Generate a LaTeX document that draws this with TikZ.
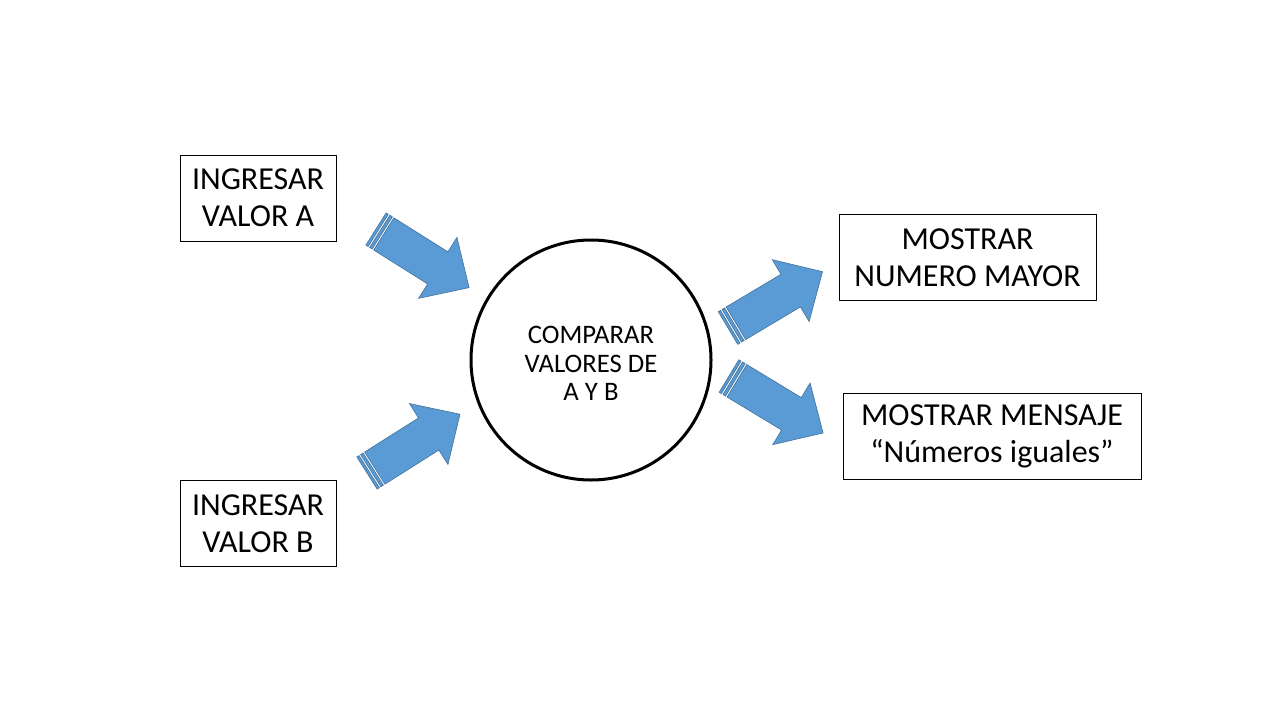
\documentclass[tikz,border=0pt]{standalone}
\usepackage{fontspec}
\setmainfont{Carlito}
\definecolor{arrowfill}{HTML}{5B9BD5}
\definecolor{arrowline}{HTML}{41719C}
\tikzset{
  box/.style={draw=black, line width=1pt, minimum width=#1, minimum height=86pt, inner sep=0pt, align=center,
    font=\fontsize{32}{36.7}\selectfont},
  sarrow/.pic={
    \path[fill=arrowfill, draw=arrowline, line width=0.6pt, line join=miter]
      (0,-19) rectangle (2.6,19)
      (4.4,-19) rectangle (7.4,19)
      (9.2,-19) -- (73,-19) -- (73,-36) -- (110,0) -- (73,36) -- (73,19) -- (9.2,19) -- cycle;
  }
}
\begin{document}
\begin{tikzpicture}[x=1pt, y=-1pt]
\useasboundingbox[fill=white] (0,0) rectangle (1280,720);

\node[box=156pt] (inA) at (258,198) {INGRESAR\\VALOR A};
\node[box=156pt] (inB) at (258,523.5) {INGRESAR\\VALOR B};
\node[box=257pt] (outM) at (967.5,257.5) {MOSTRAR\\NUMERO MAYOR};
\node[box=298pt] (outE) at (992,436.5) {MOSTRAR MENSAJE\\“Números iguales”};

\node[circle, draw=black, line width=3pt, minimum size=240pt, inner sep=0pt] (cmp) at (591,360) {};
\node[align=center, inner sep=0pt, font=\fontsize{26.7}{28.7}\selectfont] (cmptext) at ([yshift=-3.5pt]cmp.center) {COMPARAR\\VALORES DE\\A Y B};

\coordinate (tA) at (376,229);
\coordinate (tB) at (367,473);
\coordinate (tM) at (728,328);
\coordinate (tE) at (729,376);
\path (tA) pic[rotate=-32.2] {sarrow};
\path (tB) pic[rotate=32.3] {sarrow};
\path (tM) pic[rotate=30.8] {sarrow};
\path (tE) pic[rotate=-31.2] {sarrow};
\end{tikzpicture}
\end{document}
